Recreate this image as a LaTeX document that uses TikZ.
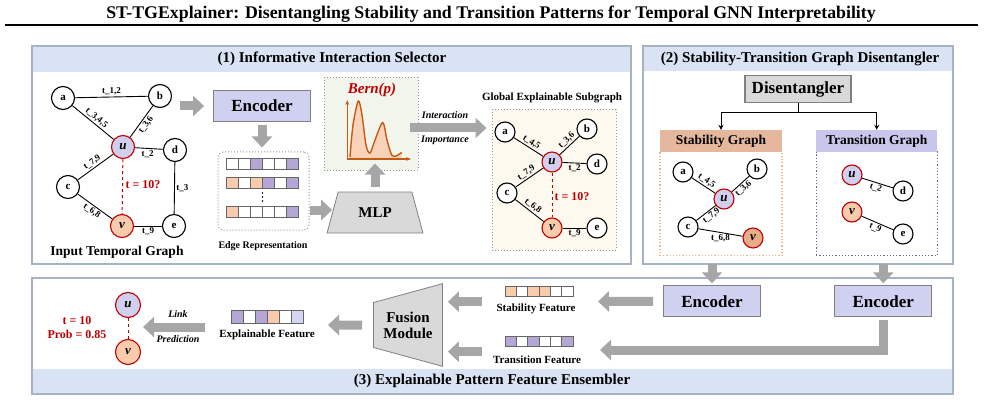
\documentclass[tikz,border=0pt]{standalone}
\usepackage{fontspec}
\setmainfont{Liberation Serif}
\usetikzlibrary{arrows.meta,shapes.geometric}

\definecolor{panelline}{HTML}{A7B3C4}
\definecolor{panelfill}{HTML}{DAE3F3}
\definecolor{arrowgray}{HTML}{A6A6A6}
\definecolor{encfill}{HTML}{D0D0F0}
\definecolor{boxgray}{HTML}{D9D9D9}
\definecolor{nodered}{HTML}{C00000}
\definecolor{ufill}{HTML}{D0CFEE}
\definecolor{vfill}{HTML}{F8CBAD}
\definecolor{vdark}{HTML}{E8AC88}
\definecolor{cellP}{HTML}{B4A7D6}
\definecolor{cellO}{HTML}{F8CBAD}
\definecolor{cellW}{HTML}{FFFFFF}
\definecolor{cellL}{HTML}{D4D4F4}
\definecolor{bernfill}{HTML}{F2F5EC}
\definecolor{bernline}{HTML}{C55A11}
\definecolor{subfill}{HTML}{FDF9EE}
\definecolor{stabhead}{HTML}{E5B89D}
\definecolor{transhead}{HTML}{C8C6EA}
\definecolor{stabdot}{HTML}{F4B183}
\definecolor{transdot}{HTML}{7B5BA8}

\newcommand\featrow[5]{%
  \foreach \cc [count=\k] in {#5}
    \draw[draw=gray!80!black, line width=0.6pt, fill=\cc] ({#1+(\k-1)*#3},#2) rectangle ++(#3,#4);}

\begin{document}
\begin{tikzpicture}[x=1pt, y=-1pt,
    every node/.style={align=center},
    panel/.style={draw=panelline, line width=1.2pt},
    headtext/.style={font=\bfseries\fontsize{15}{15}\selectfont},
    gnode/.style={circle, draw, line width=1.1pt, fill=white, inner sep=0pt, minimum size=23pt, font=\bfseries\fontsize{11}{11}\selectfont},
    unode/.style={gnode, draw=nodered, fill=ufill, font=\bfseries\itshape\fontsize{13}{13}\selectfont},
    vnode/.style={unode, fill=vfill},
    snode/.style={gnode, minimum size=20pt},
    sunode/.style={unode, minimum size=20pt},
    svnode/.style={vnode, minimum size=20pt},
    edge/.style={draw, line width=0.9pt},
    elabel/.style={font=\bfseries\fontsize{9}{9}\selectfont, inner sep=1.5pt},
    query/.style={draw=nodered, dashed, line width=1pt},
    redtext/.style={text=nodered, font=\bfseries\fontsize{12}{12}\selectfont},
    encbox/.style={draw=gray, line width=0.8pt, fill=encfill, minimum width=97pt, minimum height=31pt, font=\bfseries\fontsize{17}{17}\selectfont},
    trapbox/.style={trapezium, trapezium stretches=true, draw=gray, line width=0.8pt, fill=boxgray, font=\bfseries\fontsize{15}{16}\selectfont},
    garrow/.style={draw=arrowgray, line width=9pt, -{Triangle[length=11pt, width=20pt]}},
    caption/.style={font=\bfseries\fontsize{11}{11}\selectfont},
    ital/.style={font=\bfseries\itshape\fontsize{10}{10}\selectfont},
    dotbox/.style={draw=gray!80, dotted, line width=1pt},
    tree/.style={draw, line width=0.9pt, -{Stealth[length=5pt, width=5pt]}},
    ]
\useasboundingbox (0,0) rectangle (985,401);

\node[font=\bfseries\fontsize{17.8}{17.8}\selectfont] (title) at (491,14) {ST-TGExplainer: Disentangling Stability and Transition Patterns for Temporal GNN Interpretability};
\draw[line width=2pt] (5,25) -- (978,25);

\fill[panelfill] (32,46) rectangle (631,72);
\draw[panel] (32,46) rectangle (631,264);
\node[headtext] (p1head) at (332,59) {(1) Informative Interaction Selector};
\fill[panelfill] (643,46) rectangle (953,71);
\draw[panel] (643,46) rectangle (953,264);
\node[headtext] (p2head) at (800,59) {(2) Stability-Transition Graph Disentangler};
\fill[panelfill] (32,369) rectangle (953,394);
\draw[panel] (32,278) rectangle (953,394);
\node[headtext] (p3head) at (492,381) {(3) Explainable Pattern Feature Ensembler};

\node[gnode] (ga) at (63,98) {a};
\node[gnode] (gb) at (160,96) {b};
\node[unode] (gu) at (123,147) {u};
\node[gnode] (gd) at (175,150) {d};
\node[gnode] (gc) at (68,187) {c};
\node[vnode] (gv) at (122,226) {v};
\node[gnode] (ge) at (174,226) {e};
\draw[edge] (ga) -- node[elabel, above] {t\_1,2} (gb);
\draw[edge] (ga) -- node[elabel, sloped, above] {t\_3,4,5} (gu);
\draw[edge] (gu) -- node[elabel, sloped, below] {t\_3,6} (gb);
\draw[edge] (gu) -- node[elabel, below, pos=.45] {t\_2} (gd);
\draw[edge] (gc) -- node[elabel, sloped, above] {t\_7,9} (gu);
\draw[edge] (gd) -- node[elabel, right] {t\_3} (ge);
\draw[edge] (gc) -- node[elabel, sloped, below] {t\_6,8} (gv);
\draw[edge] (gv) -- node[elabel, below] {t\_9} (ge);
\draw[query] (gu) -- (gv);
\node[redtext] (gq) at (143,185) {t = 10?};
\node[font=\bfseries\fontsize{13.5}{13.5}\selectfont] (glab) at (117,252) {Input Temporal Graph};

\node[encbox] (enc) at (262,106) {Encoder};
\node[dotbox, rounded corners=5pt, fill=white, minimum width=91pt, minimum height=78pt] (erep) at (263.5,191) {};
\featrow{226.7}{158.5}{11.9}{11}{cellW,cellW,cellP,cellW,cellW,cellP}
\featrow{226.7}{176.8}{11.9}{11}{cellO,cellW,cellO,cellP,cellW,cellP}
\featrow{226.7}{206.2}{11.9}{11}{cellO,cellW,cellW,cellW,cellW,cellP}
\foreach \dy in {193,197,201}
  \fill (262.5,\dy) circle (0.8);
\node[font=\bfseries\fontsize{10}{10}\selectfont] (erlab) at (263,246) {Edge Representation};

\node[trapbox, trapezium angle=70, minimum width=96pt, minimum height=41pt] (mlp) at (375,212.5) {MLP};

\node[dotbox, fill=bernfill, minimum width=94pt, minimum height=92pt] (bern) at (371,124) {};
\node[text=nodered, font=\bfseries\itshape\fontsize{15}{15}\selectfont] (berntxt) at (372,90) {Bern(p)};
\fill[vfill!85] plot[smooth] coordinates {(350,157) (353,125) (358.3,101) (362,115) (366,145) (370,153) (375,140) (382.7,122.5) (387,140) (391.7,155) (396,156) (401.7,152.5)} -- (401.7,158) -- (350,158) -- cycle;
\draw[bernline, line width=1.4pt] plot[smooth] coordinates {(350,157) (353,125) (358.3,101) (362,115) (366,145) (370,153) (375,140) (382.7,122.5) (387,140) (391.7,155) (396,156) (401.7,152.5)};
\draw[bernline, line width=1.2pt, -{Stealth[length=5pt]}] (347.3,159) -- (347.3,100);
\draw[bernline, line width=1.2pt, -{Stealth[length=5pt]}] (347.3,159) -- (411,159);

\node[dotbox, fill=subfill, minimum width=124pt, minimum height=140pt] (sub) at (554,180) {};
\node[caption] (sublab) at (552,98) {Global Explainable Subgraph};
\node[snode] (xa) at (505,132) {a};
\node[snode] (xb) at (587,129) {b};
\node[sunode] (xu) at (552,162) {u};
\node[snode] (xd) at (597,164) {d};
\node[snode] (xc) at (507,193) {c};
\node[svnode] (xv) at (552,228) {v};
\node[snode] (xe) at (597,228) {e};
\draw[edge] (xa) -- node[elabel, sloped, above] {t\_4,5} (xu);
\draw[edge] (xu) -- node[elabel, sloped, above, pos=.55] {t\_3,6} (xb);
\draw[edge] (xu) -- node[elabel, below] {t\_2} (xd);
\draw[edge] (xc) -- node[elabel, sloped, above] {t\_7,9} (xu);
\draw[edge] (xc) -- node[elabel, sloped, above] {t\_6,8} (xv);
\draw[edge] (xv) -- node[elabel, below] {t\_9} (xe);
\draw[query] (xu) -- (xv);
\node[redtext] (xq) at (572,197) {t = 10?};

\node[ital] (intlab) at (445,115) {Interaction};
\node[ital] (implab) at (445,140) {Importance};

\coordinate (gout) at (180,106);
\draw[garrow, shorten >=9pt] (gout) -- (enc.west);
\draw[garrow, shorten <=3pt, shorten >=4pt] (enc.south) -- (enc.south |- erep.north);
\coordinate (mlpin) at (310,210);
\draw[garrow] (mlpin) -- (mlp.west |- mlpin);
\draw[garrow, shorten <=5pt, shorten >=-7pt] (mlp.north) -- (mlp.north |- bern.south);
\coordinate (impout) at (410,128);
\draw[garrow, shorten >=5pt] (impout) -- (sub.west |- impout);

\node[draw=gray, line width=1.5pt, fill=boxgray, minimum width=106pt, minimum height=27pt, font=\bfseries\fontsize{17}{17}\selectfont] (dis) at (798,89) {Disentangler};
\node[draw=stabdot, dotted, line width=1.2pt, fill=white, minimum width=122pt, minimum height=104pt] (stbody) at (721,203.7) {};
\node[fill=stabhead, minimum width=122pt, minimum height=22pt, font=\bfseries\fontsize{13.5}{13.5}\selectfont] (sthead) at (721,141) {Stability Graph};
\node[draw=transdot, dotted, line width=1.2pt, fill=white, minimum width=121pt, minimum height=104pt] (trbody) at (876.7,203.7) {};
\node[fill=transhead, minimum width=121pt, minimum height=22pt, font=\bfseries\fontsize{13.5}{13.5}\selectfont] (trhead) at (876.7,141) {Transition Graph};
\draw[tree] (dis.south) -- ++(0,9.5) -| (sthead.north);
\draw[tree] (dis.south) -- ++(0,9.5) -| (trhead.north);

\node[snode] (sa) at (683,172) {a};
\node[snode] (sb) at (757,169) {b};
\node[sunode] (su) at (724,199) {u};
\node[snode] (sc) at (688,227) {c};
\node[svnode, fill=vdark] (sv) at (753,238) {v};
\draw[edge] (sa) -- node[elabel, sloped, above] {t\_4,5} (su);
\draw[edge] (su) -- node[elabel, sloped, below, pos=.45] {t\_3,6} (sb);
\draw[edge] (sc) -- node[elabel, sloped, below, pos=.6] {t\_7,9} (su);
\draw[edge] (sc) -- node[elabel, below] {t\_6,8} (sv);

\node[sunode] (tu) at (852,175) {u};
\node[snode] (td) at (903,191) {d};
\node[svnode] (tv) at (852,212) {v};
\node[snode] (te) at (903,234) {e};
\draw[edge] (tu) -- node[elabel, sloped, below] {t\_2} (td);
\draw[edge] (tv) -- node[elabel, sloped, below] {t\_9} (te);

\node[encbox] (senc) at (712,301.2) {Encoder};
\node[encbox] (tenc) at (883.3,301.2) {Encoder};
\draw[garrow, shorten <=8pt, shorten >=2pt] (senc.north |- stbody.south) -- (senc.north);
\draw[garrow, shorten <=8pt, shorten >=2pt] (tenc.north |- trbody.south) -- (tenc.north);

\featrow{505}{286.7}{11.3}{10}{cellO,cellW,cellO,cellO,cellW,cellW}
\node[caption] (sflab) at (536,309.3) {Stability Feature};
\featrow{505}{336.7}{11.3}{10}{cellP,cellW,cellP,cellW,cellW,cellP}
\node[caption] (tflab) at (537,359.3) {Transition Feature};
\coordinate (sfin) at (598,301.5);
\draw[garrow, shorten <=10pt] (senc.west) -- (sfin);
\coordinate (tfin) at (600,350);
\draw[garrow, shorten <=3pt] (tenc.south) |- (tfin);

\node[trapbox, shape border rotate=90, trapezium angle=76, minimum width=83pt, minimum height=69pt] (fusion) at (408,325) {Fusion\\Module};
\coordinate (sfuse) at (482,301.7);
\coordinate (tfuse) at (482,351.7);
\draw[garrow, shorten >=5pt] (sfuse) -- (fusion.east |- sfuse);
\draw[garrow, shorten >=5pt] (tfuse) -- (fusion.east |- tfuse);

\featrow{231.7}{310.7}{11.9}{12.5}{cellP,cellW,cellP,cellO,cellW,cellL}
\node[caption] (xflab) at (267,335) {Explainable Feature};
\coordinate (xfin) at (328,325);
\draw[garrow, shorten <=11pt] (fusion.west) -- (xfin);

\node[gnode, draw=nodered, fill=ufill, minimum size=25pt, font=\bfseries\itshape\fontsize{13}{13}\selectfont] (pu) at (128,305) {u};
\node[gnode, draw=nodered, fill=vfill, minimum size=25pt, font=\bfseries\itshape\fontsize{13}{13}\selectfont] (pv) at (128,352) {v};
\draw[query] (pu) -- (pv);
\node[ital] (linklab) at (178,314.3) {Link};
\node[ital] (predlab) at (178,339.3) {Prediction};
\coordinate (lpout) at (205,327);
\draw[garrow, shorten >=2pt] (lpout) -- (pu.east |- lpout);
\node[redtext] (ptime) at (77,320.7) {t = 10};
\node[redtext] (pprob) at (77,334) {Prob = 0.85};
\end{tikzpicture}
\end{document}
